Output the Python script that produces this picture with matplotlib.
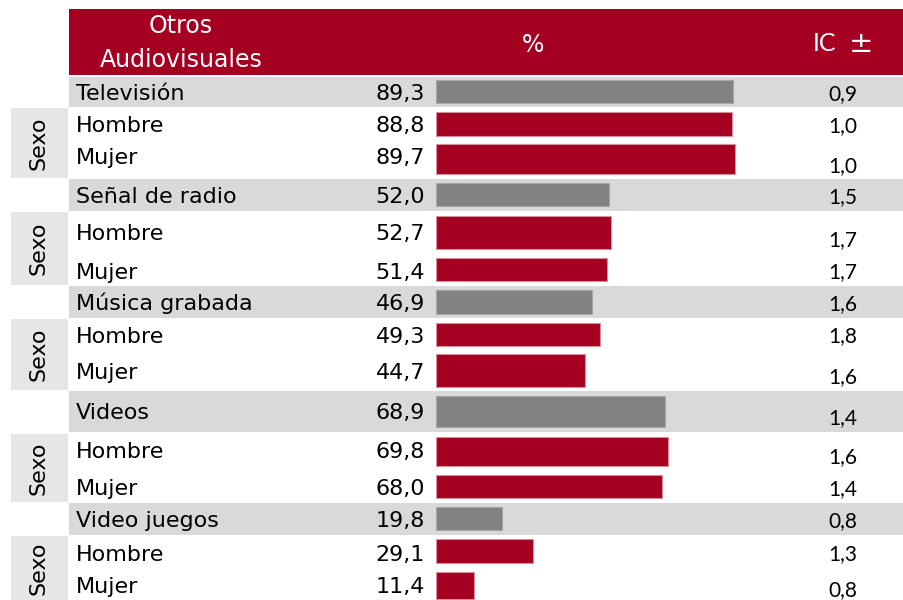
import matplotlib
matplotlib.use("Agg")
import matplotlib.pyplot as plt
from matplotlib.patches import Rectangle

# ---------------- data ----------------
row_labels = ["Televisión", "Hombre", "Mujer",
              "Señal de radio", "Hombre", "Mujer",
              "Música grabada", "Hombre", "Mujer",
              "Videos", "Hombre", "Mujer",
              "Video juegos", "Hombre", "Mujer"]
is_total = [True, False, False] * 5
pct_values = [89.3, 88.8, 89.7,
              52.0, 52.7, 51.4,
              46.9, 49.3, 44.7,
              68.9, 69.8, 68.0,
              19.8, 29.1, 11.4]
ic_values = [0.9, 1.0, 1.0,
             1.5, 1.7, 1.7,
             1.6, 1.8, 1.6,
             1.4, 1.6, 1.4,
             0.8, 1.3, 0.8]
group_label = "Sexo"
header_first = ["Otros", "Audiovisuales"]
header_pct = "%"
header_ic = ["IC", "±"]

# ---------------- layout (pixel units) ----------------
RED = "#A50021"
BAR_GRAY = "#828282"
BAND_GRAY = "#D9D9D9"
BOX_GRAY = "#E7E6E6"
TXT = "#000000"

bar_centers = [91.5, 124, 159, 194.5, 232.5, 269.5, 302, 334.5, 370.5,
               411.5, 451.5, 486.5, 518.5, 551, 585.5]
bar_heights = [23, 24, 30, 23, 33, 23, 24, 23, 33, 31, 29, 23, 23, 24, 27]
bands = [(77, 107), (179, 211), (286, 318), (391, 432), (503, 535)]
sexo_boxes = [(108, 178), (212, 285), (319, 390), (434, 502), (536, 600)]
label_base = [100, 132, 164, 203, 240, 279, 310, 343, 379, 419, 458, 495, 527, 561, 593]
ic_base = [100, 132, 172, 203, 246, 278, 310, 342, 383, 424, 463, 495, 527, 560, 596]

W, H = 904, 600
fig = plt.figure(figsize=(W / 100, H / 100), dpi=100)
ax = fig.add_axes([0, 0, 1, 1])
ax.set_xlim(0, W)
ax.set_ylim(H, 0)
ax.axis("off")

# header
ax.add_patch(Rectangle((69, 9), W - 69, 66, facecolor=RED, edgecolor="none"))
ax.text(181, 33, header_first[0], color="white", fontsize=17, ha="center", va="baseline",
        family="DejaVu Sans")
ax.text(181, 67, header_first[1], color="white", fontsize=17, ha="center", va="baseline",
        family="DejaVu Sans")
ax.text(533, 52, header_pct, color="white", fontsize=17, ha="center", va="baseline",
        family="DejaVu Sans")
ax.text(824.5, 51, header_ic[0], color="white", fontsize=18, ha="center", va="baseline",
        family="Lato")
ax.text(861.5, 52, header_ic[1], color="white", fontsize=21, ha="center", va="baseline",
        family="DejaVu Sans")

# bands and group boxes
for y0, y1 in bands:
    ax.add_patch(Rectangle((69, y0), W - 69, y1 - y0, facecolor=BAND_GRAY, edgecolor="none"))
for y0, y1 in sexo_boxes:
    ax.add_patch(Rectangle((11, y0), 57, y1 - y0, facecolor=BOX_GRAY, edgecolor="none"))
    ax.text(39, (y0 + y1) / 2, group_label, rotation=90, fontsize=16,
            ha="center", va="center", family="DejaVu Sans", color=TXT)

# labels, values, IC
for i, lab in enumerate(row_labels):
    ax.text(76, label_base[i], lab, fontsize=16, ha="left", va="baseline",
            family="DejaVu Sans", color=TXT)
    ax.text(425, label_base[i], f"{pct_values[i]:.1f}".replace(".", ","), fontsize=16,
            ha="right", va="baseline", family="DejaVu Sans", color=TXT)
    ax.text(843, ic_base[i], f"{ic_values[i]:.1f}".replace(".", ","), fontsize=15,
            ha="center", va="baseline", family="Lato", color=TXT)

# bars on their own percent scale
bar_left_px = 436
px_per_unit = 3.33
ax2 = fig.add_axes([bar_left_px / W, 0, (W - bar_left_px) / W, 1])
ax2.set_xlim(0, (W - bar_left_px) / px_per_unit)
ax2.set_ylim(H, 0)
ax2.axis("off")
ax2.patch.set_alpha(0)
colors = [BAR_GRAY if t else RED for t in is_total]
edges = ["#A6A6A6" if t else "#D98C99" for t in is_total]
ax2.barh(bar_centers, pct_values, height=bar_heights, color=colors,
         edgecolor=edges, linewidth=0.8, align="center")

fig.savefig("out.png", dpi=100)
